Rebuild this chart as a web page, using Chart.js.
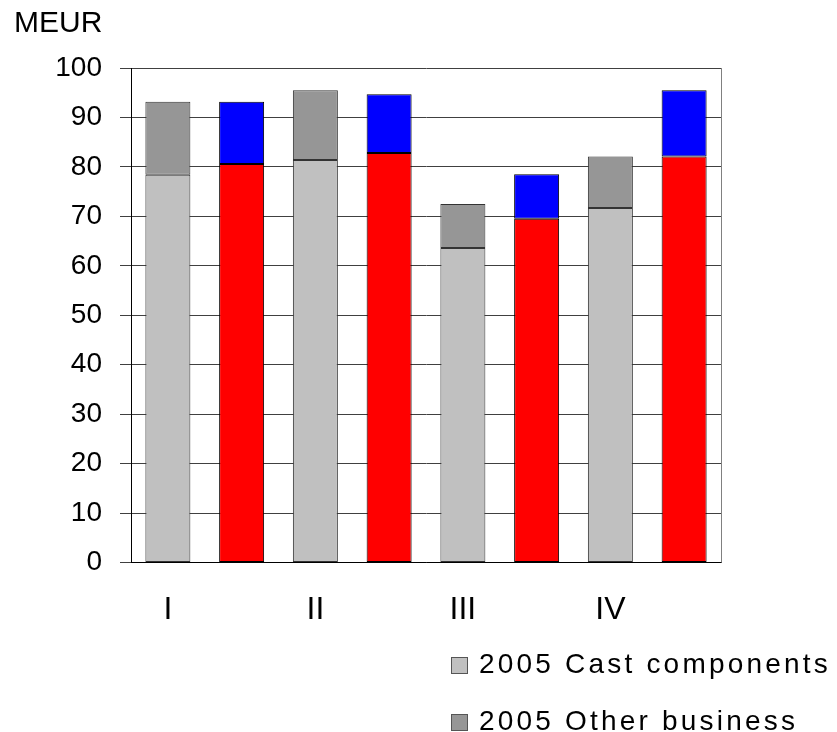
<!DOCTYPE html>
<html>
<head>
<meta charset="utf-8">
<script src="https://cdn.jsdelivr.net/npm/chart.js@4"></script>
<style>
  body { margin: 0; background: #fff; }
  #wrap { position: relative; width: 837px; height: 732px; }
  #legend { position: absolute; left: 451px; top: 646px; font-family: "Liberation Sans", Arial, sans-serif; font-size: 28px; letter-spacing: 3.2px; color: #000; }
  .item { height: 57px; line-height: 36px; white-space: nowrap; }
  .box { display: inline-block; width: 15px; height: 15px; border: 1px solid #555; margin-right: 11px; vertical-align: -1px; }
</style>
</head>
<body>
<div id="wrap">
  <canvas id="chart" width="837" height="732"></canvas>
  <div id="legend"></div>
</div>
<script>
document.addEventListener("DOMContentLoaded", () => {
  const quarters = ["I", "II", "III", "IV"];
  const cast2005 = [78.4, 81.4, 63.6, 71.7];
  const other2005 = [14.8, 14.1, 8.9, 10.4];
  const cast2006 = [80.6, 82.8, 69.5, 82.1];
  const other2006 = [12.6, 11.9, 9.0, 13.4];
  const yTicks = [0, 10, 20, 30, 40, 50, 60, 70, 80, 90, 100];

  // two slots per quarter: 2005 bar then 2006 bar
  const labels = [];
  quarters.forEach(q => { labels.push(q); labels.push(""); });
  const slot2005 = arr => arr.flatMap(v => [v, null]);
  const slot2006 = arr => arr.flatMap(v => [null, v]);

  const datasets = [
    { label: "2005 Cast components", data: slot2005(cast2005), backgroundColor: "#c0c0c0", borderColor: "#333333" },
    { label: "2005 Other business", data: slot2005(other2005), backgroundColor: "#969696", borderColor: "#333333" },
    { label: "2006 Cast components", data: slot2006(cast2006), backgroundColor: "#ff0000", borderColor: "#000000" },
    { label: "2006 Other business", data: slot2006(other2006), backgroundColor: "#0000ff", borderColor: "#000000" },
  ];
  datasets.forEach(d => {
    d.borderWidth = 1;
    d.borderSkipped = false;
    d.barPercentage = 0.61;
    d.categoryPercentage = 1;
  });

  // frame on the right side of the plot
  const frame = {
    id: "frame",
    afterDraw(chart) {
      const a = chart.chartArea, c = chart.ctx;
      c.save();
      c.strokeStyle = "#808080";
      c.lineWidth = 1;
      c.beginPath();
      c.moveTo(a.right + 0.5, a.top);
      c.lineTo(a.right + 0.5, a.bottom);
      c.stroke();
      c.restore();
    }
  };

  const font = "'Liberation Sans', Arial, sans-serif";
  new Chart(document.getElementById("chart"), {
    type: "bar",
    data: { labels: labels, datasets: datasets },
    plugins: [frame],
    options: {
      responsive: false,
      animation: false,
      layout: { padding: { left: 14, right: 116, top: 0, bottom: 75 } },
      plugins: {
        legend: { display: false },
        tooltip: { enabled: false },
        title: {
          display: true,
          text: "MEUR",
          align: "start",
          color: "#000",
          font: { family: font, size: 30, weight: "normal" },
          padding: { top: 6, bottom: 26 },
        },
      },
      scales: {
        x: {
          stacked: true,
          grid: { display: false, drawTicks: false },
          border: { display: true, color: "#000" },
          ticks: { color: "#000", font: { family: font, size: 32 }, padding: 28, maxRotation: 0, autoSkip: false },
        },
        y: {
          stacked: true,
          min: 0,
          max: 100,
          afterFit: s => { s.width = 117; },
          afterBuildTicks: s => { s.ticks = yTicks.map(v => ({ value: v })); },
          grid: { color: "#404040", lineWidth: 1, tickLength: 11 },
          border: { display: true, color: "#000" },
          ticks: { color: "#000", font: { family: font, size: 28 }, padding: 18 },
        },
      },
    },
  });

  const legend = document.getElementById("legend");
  datasets.slice(0, 2).forEach(d => {
    const row = document.createElement("div");
    row.className = "item";
    const box = document.createElement("span");
    box.className = "box";
    box.style.background = d.backgroundColor;
    row.appendChild(box);
    row.appendChild(document.createTextNode(d.label));
    legend.appendChild(row);
  });
});
</script>
</body>
</html>
